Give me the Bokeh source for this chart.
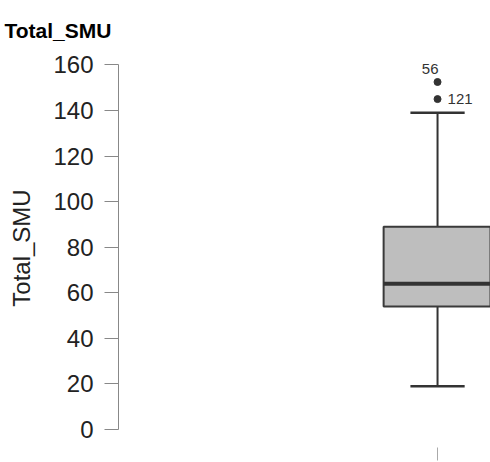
from bokeh.plotting import figure
from bokeh.models import Range1d, FixedTicker, ColumnDataSource, Title
from bokeh.core.properties import value
from bokeh.embed import file_html
from bokeh.resources import INLINE

# ---- data ----
categories = ["Total_SMU"]
box_x = [1]
q1 = [54.0]
median = [64.0]
q3 = [89.0]
whisker_low = [19.0]
whisker_high = [139.0]
outlier_values = [152.5, 145.0]
outlier_labels = ["56", "121"]
y_ticks = [0, 20, 40, 60, 80, 100, 120, 140, 160]

FONT = "Liberation Sans"
DARK = "#333333"

p = figure(width=490, height=462, output_backend="svg", toolbar_location=None,
           x_range=Range1d(0.5, 1.083), y_range=Range1d(-7.9, 167.2),
           min_border_left=118, min_border_right=0, min_border_top=48,
           min_border_bottom=15)
p.title = Title(text="Total_SMU", align="left", offset=-114, standoff=14,
                text_font=FONT, text_font_size="21px", text_font_style="bold",
                text_color="#000000")
p.outline_line_color = None
p.grid.visible = False
p.background_fill_color = "white"
p.border_fill_color = "white"

bw = 0.169
cw = 0.085
src = ColumnDataSource(dict(x=box_x, q1=q1, q3=q3, med=median, lo=whisker_low, hi=whisker_high))

# whiskers
p.segment(x0="x", y0="q3", x1="x", y1="hi", source=src, line_color=DARK, line_width=2)
p.segment(x0="x", y0="lo", x1="x", y1="q1", source=src, line_color=DARK, line_width=2)
# caps
p.segment(x0=[box_x[0] - cw / 2], y0=whisker_high, x1=[box_x[0] + cw / 2], y1=whisker_high,
          line_color=DARK, line_width=2.5)
p.segment(x0=[box_x[0] - cw / 2], y0=whisker_low, x1=[box_x[0] + cw / 2], y1=whisker_low,
          line_color=DARK, line_width=2.5)
# box
p.vbar(x="x", width=bw, bottom="q1", top="q3", source=src, fill_color="#bebebe",
       line_color="#3a3a3a", line_width=2)
# median
p.segment(x0=[box_x[0] - bw / 2], y0=median, x1=[box_x[0] + bw / 2], y1=median,
          line_color=DARK, line_width=4)

# outliers
osrc = ColumnDataSource(dict(x=[box_x[0]] * len(outlier_values), y=outlier_values, lab=outlier_labels))
p.scatter(x="x", y="y", source=osrc, size=7, fill_color=DARK, line_color=DARK)
p.text(x=[box_x[0]], y=[outlier_values[0]], text=[outlier_labels[0]], x_offset=1, y_offset=-8,
       text_align="right", text_baseline="bottom", text_font=value(FONT),
       text_font_size="15px", text_color=DARK)
p.text(x=[box_x[0]], y=[outlier_values[1]], text=[outlier_labels[1]], x_offset=10, y_offset=0,
       text_align="left", text_baseline="middle", text_font=value(FONT),
       text_font_size="15px", text_color=DARK)

# y axis
ya = p.yaxis[0]
ya.ticker = FixedTicker(ticks=y_ticks)
ya.bounds = (0, 160)
ya.axis_label = "Total_SMU"
ya.axis_label_text_font = FONT
ya.axis_label_text_font_size = "24px"
ya.axis_label_text_font_style = "normal"
ya.axis_label_text_color = "#222222"
ya.axis_label_standoff = 15
ya.major_label_text_font = FONT
ya.major_label_text_font_size = "24px"
ya.major_label_text_color = "#222222"
ya.major_label_standoff = 11
ya.major_tick_out = 14
ya.major_tick_in = 0
ya.minor_tick_out = 0
ya.minor_tick_in = 0
ya.axis_line_color = "#888888"
ya.major_tick_line_color = "#888888"

# x axis: single tick, no labels, no line
xa = p.xaxis[0]
xa.ticker = FixedTicker(ticks=box_x)
xa.major_label_overrides = {1: ""}
xa.major_label_text_font_size = "1px"
xa.major_label_standoff = 0
xa.axis_line_color = None
xa.major_tick_out = 13
xa.major_tick_in = 0
xa.minor_tick_out = 0
xa.major_tick_line_color = "#aaaaaa"

open("out.html", "w").write(file_html(p, INLINE))
